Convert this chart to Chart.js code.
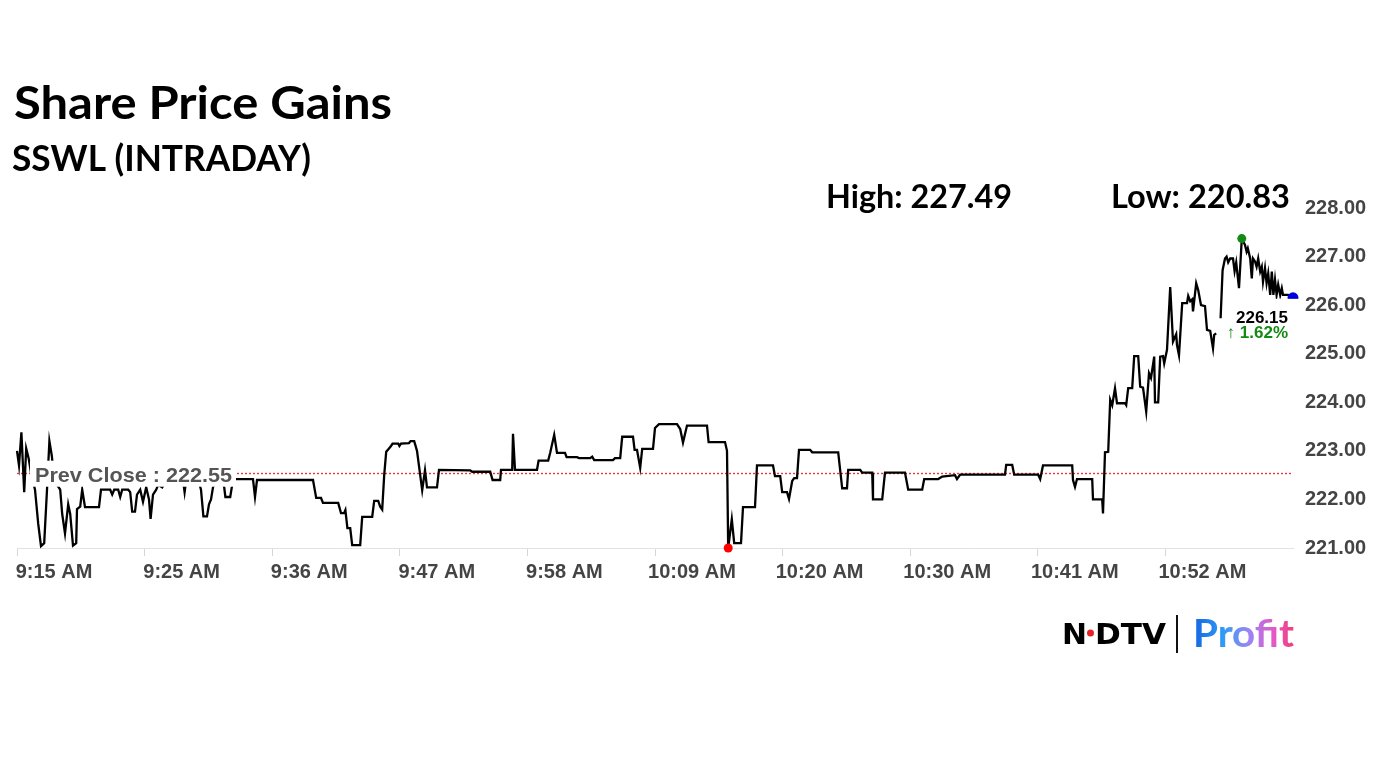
<!DOCTYPE html>
<html>
<head>
<meta charset="utf-8">
<title>SSWL Intraday</title>
<script src="https://cdn.jsdelivr.net/npm/chart.js@4.4.0/dist/chart.umd.min.js"></script>
<style>
  html, body { margin: 0; padding: 0; background: #fff; }
  canvas { display: block; }
</style>
</head>
<body>
<canvas id="chart" width="1382" height="777"></canvas>
<script>
// x axis tick labels (one every ~32 sampling slots)
const tickLabels = ['9:15 AM', '9:25 AM', '9:36 AM', '9:47 AM', '9:58 AM',
                    '10:09 AM', '10:20 AM', '10:30 AM', '10:41 AM', '10:52 AM'];
const slotsPerTick = 31.9;
const lastSlot = 319;

const yTicks = [221, 222, 223, 224, 225, 226, 227, 228];

const prevClose = 222.55;
const dayHigh = 227.49;
const dayLow = 220.83;
const changePct = 1.62;

// sampling slot of each trade print
const slots = [
  0, 0.5, 1.1, 1.8, 2.3, 2.9, 3.5, 4.5, 5.3, 6.0,
  6.8, 7.5, 8.1, 8.7, 9.3, 10.0, 10.8, 11.3, 12.0, 12.8,
  13.3, 14.0, 14.8, 15.0, 15.8, 16.3, 17.0, 20.5, 21.0, 23.3,
  23.8, 24.3, 25.3, 25.8, 26.3, 27.8, 28.3, 28.8, 29.5, 30.0,
  30.8, 31.5, 32.3, 33.0, 33.4, 34.0, 34.8, 35.3, 36.3, 37.0,
  41.5, 41.9, 42.3, 45.5, 46.0, 46.6, 47.5, 48.0, 48.5, 49.0,
  49.8, 51.3, 51.8, 52.1, 53.3, 53.8, 54.3, 59.0, 59.5, 60.0,
  74.0, 74.8, 76.0, 76.5, 80.3, 81.0, 81.8, 82.1, 82.6, 83.3,
  83.8, 85.8, 86.3, 88.8, 89.3, 90.3, 90.8, 91.3, 91.8, 92.3,
  93.0, 93.5, 93.9, 95.3, 95.6, 96.0, 98.0, 98.4, 99.3, 100.0,
  101.3, 102.0, 102.5, 105.0, 105.5, 113.3, 113.8, 118.3, 118.9, 120.8,
  121.0, 123.8, 124.0, 124.5, 130.0, 130.4, 132.8, 133.3, 134.3, 135.0,
  137.0, 137.4, 140.0, 140.5, 143.3, 143.8, 144.3, 149.0, 149.5, 150.8,
  151.3, 154.0, 154.4, 155.0, 155.8, 156.3, 159.0, 159.5, 160.5, 165.0,
  165.8, 166.5, 167.5, 172.5, 172.9, 177.0, 177.5, 177.8, 178.7, 179.3,
  181.0, 181.5, 184.5, 185.0, 189.0, 189.5, 190.8, 191.3, 192.5, 193.0,
  193.8, 194.3, 195.0, 195.5, 198.3, 198.8, 205.3, 206.3, 207.5, 207.8,
  210.8, 211.3, 213.8, 214.0, 216.3, 217.0, 222.0, 222.8, 226.3, 226.8,
  230.3, 231.3, 234.5, 235.0, 235.8, 247.0, 247.3, 248.8, 249.3, 255.3,
  255.8, 256.5, 263.8, 264.0, 264.5, 265.0, 268.8, 269.0, 271.3, 271.5,
  272.0, 272.8, 273.3, 273.8, 274.5, 275.0, 277.0, 277.3, 277.8, 278.8,
  279.3, 280.3, 280.8, 281.5, 282.3, 283.0, 283.5, 284.3, 284.5, 285.3,
  285.8, 286.5, 286.8, 287.5, 288.3, 289.0, 289.8, 290.0, 290.5, 291.3,
  292.5, 292.8, 293.3, 293.8, 294.0, 294.8, 295.3, 296.0, 297.0, 297.5,
  298.3, 299.0, 299.3, 299.8, 300.3, 300.9, 301.4, 302.0, 302.4, 302.8,
  303.3, 304.0, 304.4, 304.8, 305.5, 306.2, 307.0, 307.4, 307.7, 308.3,
  308.7, 309.0, 309.5, 309.9, 310.3, 310.8, 311.2, 311.5, 312.0, 312.4,
  312.8, 313.3, 313.7, 314.1, 314.5, 314.9, 315.3, 315.8, 316.2, 316.5,
  317.8, 319.0
];

// traded price at each slot (null = no print)
const prices = [
  223.0, 222.7, 223.38, 222.15, 223.05, 222.85, 222.55, 222.2, 221.5, 221.04,
  221.1, 222.2, 223.2, 222.9, 222.4, 222.3, 222.2, 221.7, 221.3, 221.9,
  221.7, 221.05, 221.1, 221.8, 221.85, 222.2, 221.84, 221.84, 222.2, 222.2,
  222.1, 222.2, 222.2, 222.05, 222.2, 222.2, 222.15, 221.75, 221.75, 222.1,
  222.2, 221.95, 222.25, 222.0, 221.6, 222.1, 222.2, 222.3, 222.25, 222.35,
  222.4, 222.15, 222.4, 222.35, 222.2, 221.65, 221.65, 221.9, 222.0, 222.25,
  222.4, 222.4, 222.25, 222.05, 222.05, 222.3, 222.42, 222.42, 222.05, 222.4,
  222.4, 222.03, 222.03, 221.93, 221.93, 221.72, 221.72, 221.78, 221.41, 221.41,
  221.06, 221.06, 221.64, 221.64, 221.97, 221.97, 221.85, 221.79, 222.5, 222.98,
  223.05, 223.1, 223.15, 223.15, 223.1, 223.15, 223.16, 223.2, 223.2, 223.0,
  222.19, 222.6, 222.25, 222.25, 222.61, 222.6, 222.57, 222.57, 222.4, 222.4,
  222.61, 222.61, 223.35, 222.61, 222.61, 222.8, 222.8, 222.96, 223.33, 222.96,
  222.96, 222.87, 222.87, 222.85, 222.85, 222.88, 222.81, 222.81, 222.85, 222.85,
  223.29, 223.29, 223.02, 223.02, 222.65, 223.04, 223.04, 223.47, 223.55, 223.55,
  223.45, 223.17, 223.52, 223.52, 223.18, 223.18, 223.0, 221.0, 221.59, 221.1,
  221.1, 221.84, 221.84, 222.7, 222.7, 222.48, 222.48, 222.15, 222.15, 222.01,
  222.38, 222.44, 222.44, 223.02, 223.02, 222.97, 222.97, 222.23, 222.23, 222.61,
  222.61, 222.55, 222.55, 222.0, 222.0, 222.55, 222.55, 222.2, 222.2, 222.42,
  222.42, 222.47, 222.5, 222.42, 222.51, 222.51, 222.71, 222.71, 222.51, 222.51,
  222.42, 222.7, 222.7, 222.4, 222.26, 222.42, 222.42, 222.0, 222.0, 221.71,
  222.97, 222.98, 224.05, 223.94, 224.29, 223.98, 223.98, 223.94, 224.29, 224.29,
  224.95, 224.95, 224.32, 224.3, 223.81, 224.6, 224.5, 224.94, 224.0, 224.0,
  224.94, 224.95, 224.8, 225.08, 226.37, 225.25, 225.4, 225.18, 224.97, 226.04,
  226.04, 226.19, 226.08, 226.12, 225.87, 226.45, 226.31, 226.0, 225.98, 225.49,
  225.47, 225.11, 225.39, 225.42, null, 225.73, 226.72, 226.96, 227.0, 226.88,
  226.96, 226.96, 226.7, 226.88, 226.35, 227.37, 227.24, 227.1, 227.17, 226.96,
  226.55, 226.96, 226.9, 226.79, 226.96, 226.69, 226.79, 226.48, 226.76, 226.45,
  226.65, 226.21, 226.69, 226.21, 226.52, 226.21, 226.42, 226.21, 226.35, 226.21,
  226.21, 226.15
];

const traded = prices.filter(p => p !== null);
const highIdx = prices.indexOf(Math.max(...traded));
const lowIdx = prices.indexOf(Math.min(...traded));
const lastIdx = prices.length - 1;

function markerColor(i) {
  if (i === highIdx) return '#148a14';
  if (i === lowIdx) return '#ff0000';
  if (i === lastIdx) return '#0000dd';
  return null;
}

// draws text squeezed/stretched to an exact width
function fitText(ctx, str, x, y, font, color, width) {
  ctx.save();
  ctx.font = font;
  ctx.textBaseline = 'alphabetic';
  ctx.textAlign = 'left';
  const w = ctx.measureText(str).width;
  ctx.translate(x, y);
  ctx.scale(width / w, 1);
  ctx.fillStyle = typeof color === 'function' ? color(ctx, w) : color;
  ctx.fillText(str, 0, 0);
  ctx.restore();
}

function profitGradient(ctx, w) {
  const g = ctx.createLinearGradient(0, 0, w, 0);
  g.addColorStop(0, '#1565e0');
  g.addColorStop(0.3, '#2f9bf5');
  g.addColorStop(0.55, '#9a86f5');
  g.addColorStop(0.8, '#e458c8');
  g.addColorStop(1, '#f23c78');
  return g;
}

const overlay = {
  id: 'overlay',
  beforeDatasetsDraw(chart) {
    const { ctx, chartArea, scales } = chart;
    const y = Math.round(scales.y.getPixelForValue(prevClose)) + 0.5;
    ctx.save();
    ctx.strokeStyle = '#e8383d';
    ctx.lineWidth = 1.4;
    ctx.setLineDash([2, 2]);
    ctx.beginPath();
    ctx.moveTo(chartArea.left, y);
    ctx.lineTo(chartArea.right, y);
    ctx.stroke();
    ctx.restore();
  },
  afterDatasetsDraw(chart) {
    const { ctx, scales } = chart;

    // prev close label
    const py = scales.y.getPixelForValue(prevClose);
    ctx.save();
    ctx.fillStyle = '#fff';
    ctx.fillRect(30, py - 12, 206, 26);
    ctx.restore();
    fitText(ctx, 'Prev Close : ' + prevClose.toFixed(2), 35, py + 9.5,
      'bold 21px "Liberation Sans", Arial, sans-serif', '#555', 197);

    // last price label
    const lx = scales.x.getPixelForValue(slots[lastIdx]);
    const ly = scales.y.getPixelForValue(prices[lastIdx]);
    ctx.save();
    ctx.fillStyle = '#fff';
    ctx.fillRect(lx - 70, ly + 1, 80, 48);
    ctx.textAlign = 'right';
    ctx.font = 'bold 17px "Liberation Sans", Arial, sans-serif';
    ctx.fillStyle = '#000';
    ctx.fillText(prices[lastIdx].toFixed(2), lx - 5, ly + 25);
    ctx.fillStyle = '#138a13';
    ctx.fillText('\u2191 ' + changePct.toFixed(2) + '%', lx - 5, ly + 40);
    ctx.restore();
  },
  afterDraw(chart) {
    const ctx = chart.ctx;
    fitText(ctx, 'Share Price Gains', 14, 119, 'bold 46px Lato', '#000', 378);
    fitText(ctx, 'SSWL (INTRADAY)', 12, 171, 'bold 36px Lato', '#000', 299);
    fitText(ctx, 'High: ' + dayHigh.toFixed(2), 826, 208, 'bold 33px Lato', '#000', 186);
    fitText(ctx, 'Low: ' + dayLow.toFixed(2), 1111, 208, 'bold 33px Lato', '#000', 179);

    // NDTV | Profit logo
    fitText(ctx, 'N', 1062, 644, 'bold 29px "DejaVu Sans"', '#000', 25);
    fitText(ctx, 'DTV', 1095, 644, 'bold 29px "DejaVu Sans"', '#000', 71);
    ctx.save();
    ctx.fillStyle = '#e8202a';
    ctx.beginPath();
    ctx.arc(1090.5, 633, 3.5, 0, Math.PI * 2);
    ctx.fill();
    ctx.fillStyle = '#111';
    ctx.fillRect(1176, 615, 2, 38);
    ctx.restore();
    fitText(ctx, 'Profit', 1193, 647, 'bold 38px Lato', profitGradient, 101);
  }
};

new Chart(document.getElementById('chart'), {
  type: 'line',
  data: {
    datasets: [{
      data: slots.map((s, i) => ({ x: s, y: prices[i] })),
      borderColor: '#000',
      borderWidth: 2.3,
      tension: 0,
      fill: false,
      clip: false,
      spanGaps: false,
      pointRadius: ctx => {
        if (ctx.dataIndex === lastIdx) return 5.5;
        return markerColor(ctx.dataIndex) ? 4.5 : 0;
      },
      pointHoverRadius: 0,
      pointBorderWidth: 0,
      pointBackgroundColor: ctx => markerColor(ctx.dataIndex) || '#000'
    }]
  },
  options: {
    responsive: false,
    animation: false,
    devicePixelRatio: 1,
    layout: { padding: { top: 208, right: 0, bottom: 169, left: 17 } },
    plugins: {
      legend: { display: false },
      tooltip: { enabled: false }
    },
    scales: {
      x: {
        type: 'linear',
        min: 0,
        max: lastSlot,
        afterBuildTicks: scale => {
          scale.ticks = tickLabels.map((_, k) => ({ value: k * slotsPerTick }));
        },
        afterFit: scale => {
          scale.height = 60;
          scale.paddingLeft = 0;
          scale.paddingRight = 0;
        },
        grid: { drawOnChartArea: false, drawTicks: true, tickLength: 8, color: '#d6d6d6' },
        border: { display: true, color: '#e2e2e2', width: 1 },
        ticks: {
          autoSkip: false,
          maxRotation: 0,
          labelOffset: 37,
          padding: 4,
          color: '#444',
          font: { family: '"Liberation Sans", Arial, sans-serif', size: 20, weight: 'bold' },
          callback: (v, i) => tickLabels[i]
        }
      },
      y: {
        position: 'right',
        min: yTicks[0],
        max: yTicks[yTicks.length - 1],
        afterBuildTicks: scale => {
          scale.ticks = yTicks.map(v => ({ value: v }));
        },
        afterFit: scale => { scale.width = 89; },
        grid: { display: false, drawTicks: false },
        border: { display: false },
        ticks: {
          padding: 12,
          color: '#444',
          font: { family: '"Liberation Sans", Arial, sans-serif', size: 20, weight: 'bold' },
          callback: v => v.toFixed(2)
        }
      }
    }
  },
  plugins: [overlay]
});
</script>
</body>
</html>
